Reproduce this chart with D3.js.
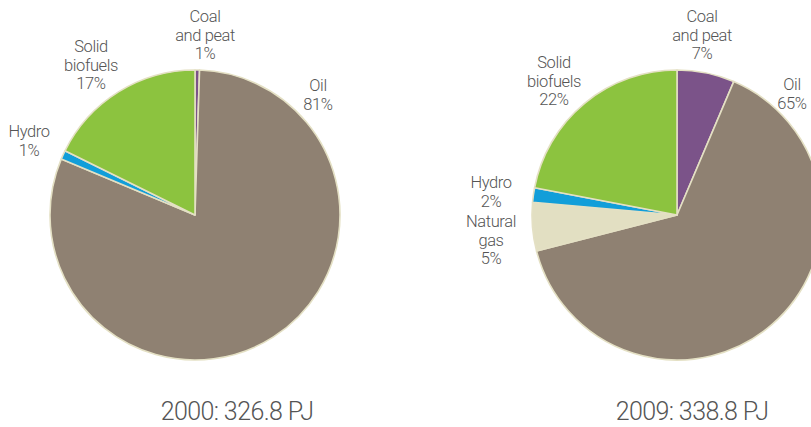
<!DOCTYPE html>
<html>
<head>
<meta charset="utf-8">
<script src="https://cdn.jsdelivr.net/npm/d3@7"></script>
<style>
  html, body { margin: 0; padding: 0; background: #fff; }
  svg text { font-family: "Roboto", "DejaVu Sans", sans-serif; font-weight: 300; fill: #555; }
</style>
</head>
<body>
<svg id="chart" width="811" height="427"></svg>
<script>
// ---- data ----
const categories = ["Coal and peat", "Oil", "Natural gas", "Hydro", "Solid biofuels"];
const labelLines = [["Coal", "and peat"], ["Oil"], ["Natural", "gas"], ["Hydro"], ["Solid", "biofuels"]];
const values2000 = [0.5, 80.8, 0, 1.0, 17.7];
const values2009 = [6.4, 64.6, 5.4, 1.6, 22.0];
const shown2000 = ["1%", "81%", null, "1%", "17%"];
const shown2009 = ["7%", "65%", "5%", "2%", "22%"];
const titles = ["2000: 326.8 PJ", "2009: 338.8 PJ"];

// ---- style / layout ----
const colors = ["#7b5389", "#8f8172", "#e2dfc2", "#129ed9", "#8cc33f"];
const color = d3.scaleOrdinal().domain(categories).range(colors);
const radius = 145;
const lineH = 18.5;

const charts = [
  { values: values2000, shown: shown2000, title: titles[0], cx: 195, cy: 215, tx: 237, ty: 420,
    pos: { "Coal and peat": [205, 22], "Oil": [318, 91], "Hydro": [29, 137], "Solid biofuels": [91, 52] } },
  { values: values2009, shown: shown2009, title: titles[1], cx: 677, cy: 215, tx: 692, ty: 420,
    pos: { "Coal and peat": [702, 22], "Oil": [792, 90], "Natural gas": [491, 227], "Hydro": [491, 188], "Solid biofuels": [554, 68] } }
];

const svg = d3.select("#chart");
const pie = d3.pie().sort(null).value(d => d.v);
const arc = d3.arc().innerRadius(0).outerRadius(radius);

charts.forEach(c => {
  const rows = categories.map((k, i) => ({ k, v: c.values[i], lab: labelLines[i], pct: c.shown[i] }));
  const g = svg.append("g").attr("transform", `translate(${c.cx},${c.cy})`);
  g.selectAll("path")
    .data(pie(rows).filter(d => d.data.v > 0))
    .join("path")
    .attr("d", arc)
    .attr("fill", d => color(d.data.k))
    .attr("stroke", "#e4e0c4")
    .attr("stroke-width", 1.6)
    .attr("stroke-linejoin", "round");

  rows.filter(r => r.v > 0 && c.pos[r.k]).forEach(r => {
    const [x, y] = c.pos[r.k];
    const lines = r.lab.concat([r.pct]);
    const t = svg.append("text")
      .attr("x", x).attr("y", y)
      .attr("text-anchor", "middle")
      .style("font-size", "16.5px")
      .style("letter-spacing", "-0.4px");
    lines.forEach((ln, j) => {
      t.append("tspan").attr("x", x).attr("dy", j === 0 ? 0 : lineH).text(ln);
    });
  });

  svg.append("text")
    .attr("x", c.tx).attr("y", c.ty)
    .attr("text-anchor", "middle")
    .style("font-size", "25px")
    .style("letter-spacing", "-0.6px")
    .text(c.title);
});
</script>
</body>
</html>
